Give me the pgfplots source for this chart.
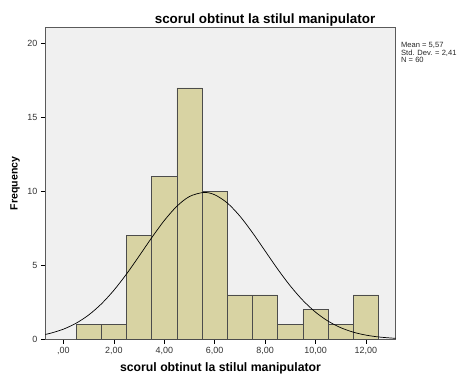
\documentclass[border=0pt]{standalone}
\usepackage{pgfplots}
\pgfplotsset{compat=1.18}
\usepackage{fontspec}
\setmainfont{Liberation Sans}
\definecolor{barfill}{RGB}{216,211,163}
\definecolor{plotbg}{RGB}{240,240,240}
\definecolor{framecol}{RGB}{90,90,90}
\begin{document}
\begin{tikzpicture}[x=1bp,y=1bp]
\useasboundingbox (0,0) rectangle (466,374);
\begin{axis}[
  at={(45.3bp,34.7bp)}, anchor=south west,
  scale only axis, width=350.4bp, height=312bp,
  xmin=-0.72, xmax=13.18, ymin=0, ymax=21.1,
  axis background/.style={fill=plotbg},
  axis line style={framecol, line width=0.8pt},
  xtick={0,2,4,6,8,10,12},
  xticklabels={{,00},{2,00},{4,00},{6,00},{8,00},{10,00},{12,00}},
  ytick={0,5,10,15,20},
  tick align=outside, tick pos=left,
  major tick length=4.5bp,
  tick style={black, line width=0.6pt},
  /pgf/number format/assume math mode=true,
  tick label style={font=\fontsize{9}{10}\selectfont, text=black!80},
  xlabel={scorul obtinut la stilul manipulator},
  xlabel style={font=\bfseries\fontsize{12.3}{14}\selectfont, at={(axis description cs:0.5,-0.092)}, anchor=center},
  ylabel={Frequency},
  ylabel style={font=\bfseries\fontsize{10.6}{12}\selectfont, at={(axis description cs:-0.0865,0.5)}, anchor=center},
  title={scorul obtinut la stilul manipulator},
  title style={font=\bfseries\fontsize{13.5}{15}\selectfont, at={(axis description cs:0.627,1.005)}, anchor=center},
  clip=false,
]
\addplot[ybar interval, fill=barfill, draw=black!70, line width=0.6pt] coordinates {
  (0.5,1) (1.5,1) (2.5,7) (3.5,11) (4.5,17) (5.5,10) (6.5,3) (7.5,3)
  (8.5,1) (9.5,2) (10.5,1) (11.5,3) (12.5,3)
};
\addplot[black, line width=0.7pt, smooth] coordinates {
  (-0.72,0.330) (-0.5,0.416) (0,0.687) (0.5,1.086) (1,1.645) (1.5,2.386)
  (2,3.315) (2.5,4.412) (3,5.625) (3.5,6.868) (4,8.033) (4.5,9.000)
  (5,9.658) (5.57,9.932) (6,9.775) (6.5,9.219) (7,8.329) (7.5,7.207)
  (8,5.974) (8.5,4.743) (9,3.607) (9.5,2.628) (10,1.834) (10.5,1.226)
  (11,0.785) (11.5,0.481) (12,0.283) (12.5,0.159) (13,0.086) (13.18,0.068)
};
\node[anchor=north west, align=left, font=\fontsize{7.6}{7.4}\selectfont, inner sep=0pt, text=black!85]
  at (axis description cs:1.015,0.952) {Mean = 5,57\\Std. Dev. = 2,41\\N = 60};
\end{axis}
\end{tikzpicture}
\end{document}
